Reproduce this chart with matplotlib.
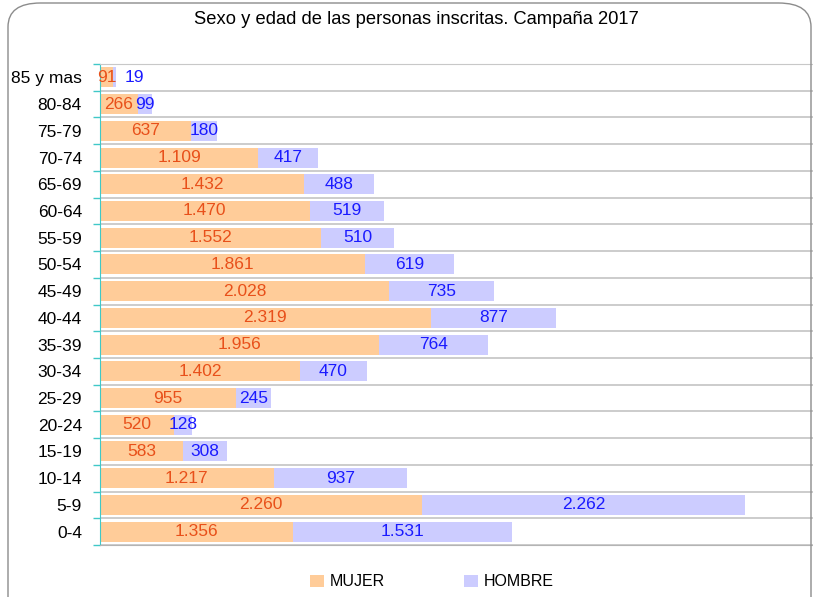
import numpy as np
import matplotlib.pyplot as plt
from matplotlib.patches import FancyBboxPatch

# === DATA ===
grupos = ["0-4", "5-9", "10-14", "15-19", "20-24", "25-29", "30-34", "35-39",
          "40-44", "45-49", "50-54", "55-59", "60-64", "65-69", "70-74",
          "75-79", "80-84", "85 y mas"]
mujer = [1356, 2260, 1217, 583, 520, 955, 1402, 1956, 2319, 2028, 1861,
         1552, 1470, 1432, 1109, 637, 266, 91]
hombre = [1531, 2262, 937, 308, 128, 245, 470, 764, 877, 735, 619, 510,
          519, 488, 417, 180, 99, 19]

plt.rcParams['font.family'] = ['Liberation Sans', 'DejaVu Sans']

C_MUJER = "#FFCC99"
C_HOMBRE = "#CCCCFF"
T_MUJER = "#E8501A"
T_HOMBRE = "#1A1AFF"

def miles(v):
    return f"{v:,}".replace(",", ".")

fig = plt.figure(figsize=(8.13, 5.97), dpi=100)
ax = fig.add_axes([100 / 813, 1 - 545 / 597, 713 / 813, (545 - 64) / 597])

# rounded frame of the chart
frame = FancyBboxPatch((8 / 813, -0.05), 803 / 813, 1.04 - 3 / 597 + 0.01,
                       boxstyle="round,pad=0,rounding_size=0.04",
                       transform=fig.transFigure, fill=False,
                       edgecolor="#8c8c8c", linewidth=1.0, zorder=0)
fig.patches.append(frame)

y = np.arange(len(grupos))
b1 = ax.barh(y, mujer, height=0.75, color=C_MUJER, label="MUJER", zorder=2)
b2 = ax.barh(y, hombre, left=mujer, height=0.75, color=C_HOMBRE,
             label="HOMBRE", zorder=2)

for i in range(len(grupos)):
    ax.text(mujer[i] / 2, y[i], miles(mujer[i]), ha="center", va="center",
            color=T_MUJER, fontsize=12.5, zorder=3)
    xh = mujer[i] + hombre[i] / 2
    if hombre[i] < 50:
        xh = mujer[i] + 150  # label pushed off the tiny segment
    ax.text(xh, y[i], miles(hombre[i]), ha="center", va="center",
            color=T_HOMBRE, fontsize=12.5, zorder=3)

ax.set_xlim(0, 5000)
ax.set_ylim(-0.5, len(grupos) - 0.5)
ax.set_xticks([])
ax.set_yticks(y)
ax.set_yticklabels(grupos, fontsize=12.5)
ax.tick_params(axis="y", length=0, pad=13)
ax.set_yticks(np.arange(-0.5, len(grupos)), minor=True)
ax.tick_params(axis="y", which="minor", length=5, color="#40C8C8", width=1)
ax.grid(axis="y", which="minor", color="#C8C8C8", linewidth=1.3, zorder=1)

ax.spines["right"].set_visible(False)
ax.spines["top"].set_color("#C8C8C8")
ax.spines["bottom"].set_color("#B4B4B4")
ax.spines["left"].set_color("#40C8C8")

fig.text(416 / 813, 1 - 20 / 597, "Sexo y edad de las personas inscritas. Campaña 2017",
         ha="center", va="center", fontsize=13.2)

fig.legend(handles=[b1, b2], labels=["MUJER", "HOMBRE"], loc="center",
           bbox_to_anchor=(432 / 813, 1 - 582 / 597), ncol=2, frameon=False,
           fontsize=11.5, handlelength=0.85, handleheight=0.85,
           columnspacing=5.0, handletextpad=0.35)

fig.savefig("out.png", dpi=100)
